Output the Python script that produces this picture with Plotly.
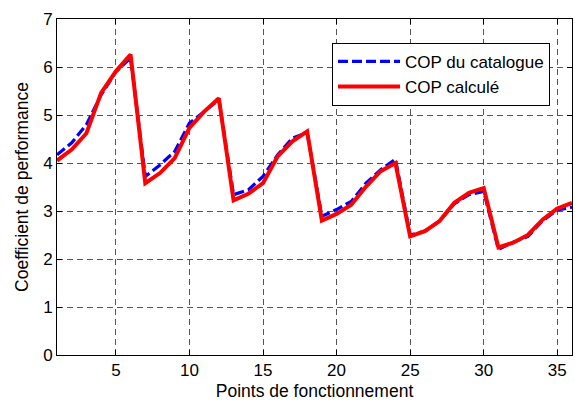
import plotly.graph_objects as go

# Points de fonctionnement 1..36
points = list(range(1, 37))

# COP du catalogue
cop_catalogue = [4.17, 4.42, 4.80, 5.42, 5.90, 6.19,
                 3.72, 3.96, 4.24, 4.83, 5.07, 5.32,
                 3.34, 3.44, 3.72, 4.17, 4.52, 4.63,
                 2.89, 3.03, 3.20, 3.58, 3.86, 4.08,
                 2.50, 2.58, 2.79, 3.15, 3.34, 3.41,
                 2.20, 2.35, 2.47, 2.80, 3.02, 3.08]

# COP calculé
cop_calcule = [4.05, 4.28, 4.62, 5.46, 5.91, 6.26,
               3.58, 3.79, 4.10, 4.73, 5.07, 5.35,
               3.22, 3.36, 3.58, 4.14, 4.45, 4.66,
               2.80, 2.94, 3.13, 3.51, 3.83, 4.00,
               2.47, 2.58, 2.79, 3.17, 3.38, 3.48,
               2.24, 2.34, 2.50, 2.82, 3.05, 3.17]

x_ticks = [5, 10, 15, 20, 25, 30, 35]
y_ticks = [0, 1, 2, 3, 4, 5, 6, 7]

font = "Liberation Sans, Arial, sans-serif"

fig = go.Figure()
fig.add_trace(go.Scatter(
    x=points, y=cop_catalogue, mode="lines", name="COP du catalogue",
    line=dict(color="#0000ff", width=3.2, dash="10px,4px"),
))
fig.add_trace(go.Scatter(
    x=points, y=cop_calcule, mode="lines", name="COP calculé",
    line=dict(color="#ff0000", width=4),
))

axis_common = dict(
    showline=True, linecolor="black", linewidth=1, mirror="ticks",
    ticks="inside", ticklen=5, tickcolor="black",
    showgrid=True, gridcolor="#555555", gridwidth=1, griddash="6px,4px",
    zeroline=False,
    tickfont=dict(family=font, size=17, color="black"),
)

fig.update_xaxes(
    range=[1, 36], tickvals=x_ticks,
    title=dict(text="Points de fonctionnement", font=dict(family=font, size=17.5, color="black"), standoff=5),
    **axis_common,
)
fig.update_yaxes(
    range=[0, 7], tickvals=y_ticks,
    title=dict(text="Coefficient de performance", font=dict(family=font, size=17.5, color="black"), standoff=10),
    **axis_common,
)

fig.update_layout(
    width=575, height=405,
    margin=dict(l=57, r=3, t=19, b=50),
    plot_bgcolor="white", paper_bgcolor="white",
    font=dict(family=font, size=17, color="black"),
    legend=dict(
        x=0.534, y=0.929, xanchor="left", yanchor="top",
        bgcolor="white", bordercolor="black", borderwidth=1,
        font=dict(family=font, size=17, color="black"),
        itemwidth=62, tracegroupgap=0,
    ),
)

# la page a une marge par défaut de 8px : on la retire
fig.write_html("out.html", config={"displayModeBar": False},
               post_script="document.body.style.margin='0';")
